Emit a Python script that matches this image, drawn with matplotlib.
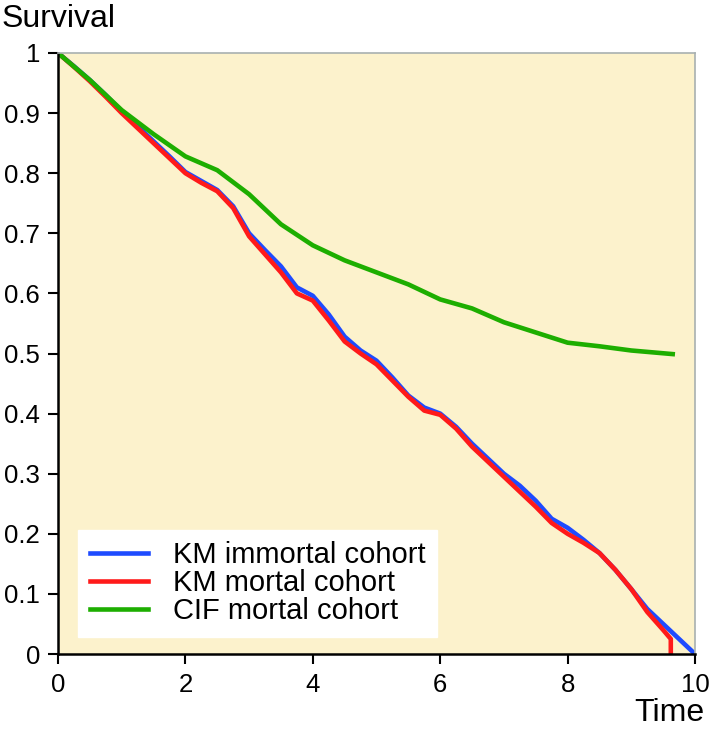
import matplotlib
matplotlib.use("Agg")
from matplotlib import pyplot as plt

plt.rcParams['font.family'] = ['Liberation Sans', 'DejaVu Sans']

# time grid the curves were read on
time = [0, 0.25, 0.5, 0.75, 1.0, 1.25, 1.5, 1.75, 2.0, 2.25, 2.5, 2.75, 3.0, 3.25, 3.5, 3.75,
        4.0, 4.25, 4.5, 4.75, 5.0, 5.25, 5.5, 5.75, 6.0, 6.25, 6.5, 6.75, 7.0, 7.25, 7.5, 7.75,
        8.0, 8.25, 8.5, 8.75, 9.0, 9.25, 9.5, 9.75, 10.0]

km_immortal = [1.0, 0.978, 0.955, 0.93, 0.903, 0.878, 0.853, 0.828, 0.802, 0.787, 0.772, 0.745,
               0.70, 0.672, 0.645, 0.61, 0.596, 0.565, 0.528, 0.505, 0.488, 0.46, 0.43, 0.41,
               0.40, 0.378, 0.35, 0.325, 0.30, 0.28, 0.255, 0.225, 0.21, 0.19, 0.168, 0.14,
               0.108, 0.075, 0.05, 0.025, 0.0]

time_mortal = [0, 0.25, 0.5, 0.75, 1.0, 1.25, 1.5, 1.75, 2.0, 2.25, 2.5, 2.75, 3.0, 3.25, 3.5, 3.75,
               4.0, 4.25, 4.5, 4.75, 5.0, 5.25, 5.5, 5.75, 6.0, 6.25, 6.5, 6.75, 7.0, 7.25, 7.5, 7.75,
               8.0, 8.25, 8.5, 8.75, 9.0, 9.25, 9.5, 9.62, 9.62]
km_mortal = [1.0, 0.977, 0.953, 0.927, 0.9, 0.875, 0.85, 0.825, 0.8, 0.784, 0.77, 0.742,
             0.695, 0.665, 0.635, 0.60, 0.588, 0.555, 0.52, 0.50, 0.482, 0.455, 0.428, 0.405,
             0.398, 0.375, 0.345, 0.32, 0.295, 0.27, 0.245, 0.218, 0.20, 0.185, 0.168, 0.14,
             0.108, 0.07, 0.04, 0.025, 0.0]

time_cif = [0, 0.5, 1.0, 1.5, 2.0, 2.5, 3.0, 3.5, 4.0, 4.5, 5.0, 5.5, 6.0, 6.5, 7.0, 7.5,
            8.0, 8.5, 9.0, 9.65]
cif_mortal = [1.0, 0.955, 0.905, 0.865, 0.828, 0.805, 0.765, 0.715, 0.68, 0.655, 0.635, 0.615,
              0.59, 0.575, 0.552, 0.535, 0.518, 0.512, 0.505, 0.499]

fig = plt.figure(figsize=(7.12, 7.32), dpi=100)
ax = fig.add_axes([58 / 712, 78 / 732, 637 / 712, 601 / 732])
ax.set_facecolor('#FCF2CC')

lw = 3.3
ax.plot(time, km_immortal, color='#1E4BFF', lw=lw, label='KM immortal cohort')
ax.plot(time_mortal, km_mortal, color='#FF1A1A', lw=lw, label='KM mortal cohort')
ax.plot(time_cif, cif_mortal, color='#1DAE00', lw=lw, label='CIF mortal cohort')

ax.set_xlim(0, 10)
ax.set_ylim(0, 1)
ax.set_xticks([0, 2, 4, 6, 8, 10])
ax.set_yticks([0, 0.1, 0.2, 0.3, 0.4, 0.5, 0.6, 0.7, 0.8, 0.9, 1])
ax.set_yticklabels(['0', '0.1', '0.2', '0.3', '0.4', '0.5', '0.6', '0.7', '0.8', '0.9', '1'])
ax.tick_params(direction='out', length=7, width=1.5, labelsize=18.5)
ax.tick_params(axis='y', pad=6)
ax.tick_params(axis='x', pad=7)

for side in ['left', 'bottom']:
    ax.spines[side].set_linewidth(1.8)
    ax.spines[side].set_color('black')
for side in ['top', 'right']:
    ax.spines[side].set_linewidth(1.2)
    ax.spines[side].set_color('#A8B0B0')

leg = ax.legend(loc='lower left', bbox_to_anchor=(20 / 637, 17 / 601), fontsize=21,
                frameon=True, fancybox=False, handlelength=2.0, handletextpad=0.85,
                borderpad=0.4, labelspacing=0.0, borderaxespad=0)
leg.get_frame().set_facecolor('white')
leg.get_frame().set_edgecolor('white')
leg.get_frame().set_alpha(1)

fig.text(2 / 712, 1 - 4 / 732, 'Survival', fontsize=23, ha='left', va='top')
fig.text(704 / 712, 1 - 728 / 732, 'Time', fontsize=23, ha='right', va='bottom')

fig.savefig('out.png', dpi=100)
